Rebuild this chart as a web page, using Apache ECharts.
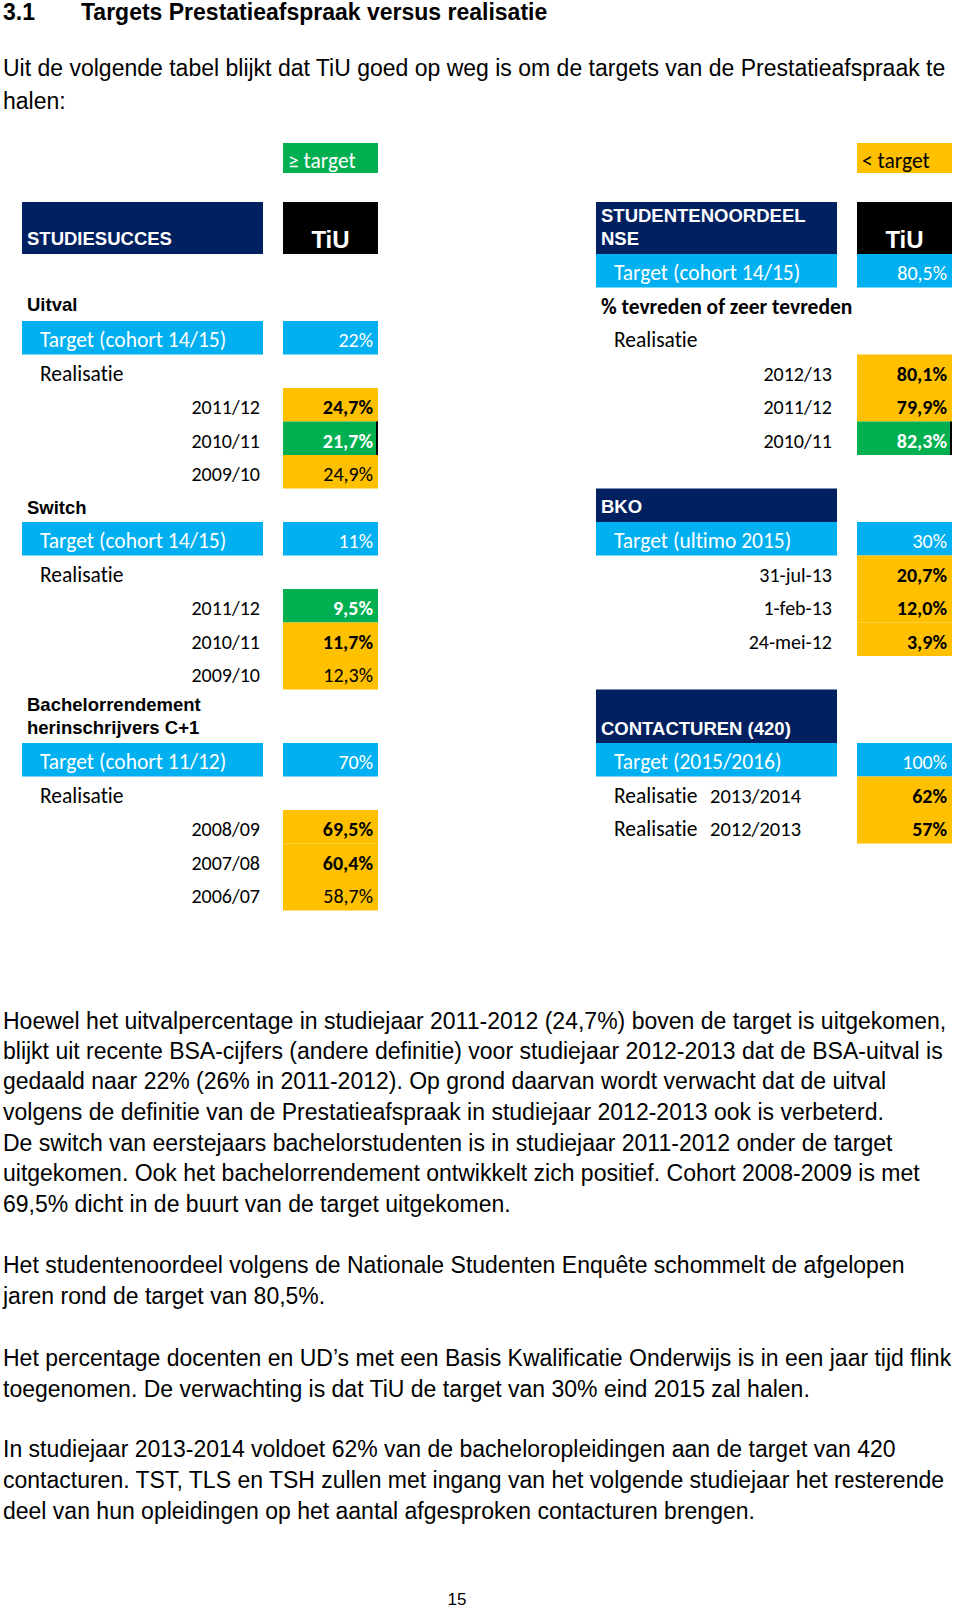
<!DOCTYPE html>
<html><head><meta charset="utf-8">
<script src="https://cdn.jsdelivr.net/npm/echarts@6/dist/echarts.min.js"></script>
<style>html,body{margin:0;padding:0;background:#fff}#c{width:960px;height:1611px}
#c text{font-variant-ligatures:none !important;font-feature-settings:"liga" 0,"clig" 0,"dlig" 0,"calt" 0 !important;text-rendering:optimizeSpeed !important;}</style>
</head><body><div id="c"></div>
<script>
// ---------------- data ----------------
const uitvalYears = ['2011/12', '2010/11', '2009/10'];
const uitvalValues = [24.7, 21.7, 24.9];
const uitvalTarget = 22;
const switchYears = ['2011/12', '2010/11', '2009/10'];
const switchValues = [9.5, 11.7, 12.3];
const switchTarget = 11;
const bachelorYears = ['2008/09', '2007/08', '2006/07'];
const bachelorValues = [69.5, 60.4, 58.7];
const bachelorTarget = 70;
const nseYears = ['2012/13', '2011/12', '2010/11'];
const nseValues = [80.1, 79.9, 82.3];
const nseTarget = 80.5;
const bkoDates = ['31-jul-13', '1-feb-13', '24-mei-12'];
const bkoValues = [20.7, 12.0, 3.9];
const bkoTarget = 30;
const contactYears = ['2013/2014', '2012/2013'];
const contactValues = [62, 57];
const contactTarget = 100;

// ---------------- styles / layout ----------------
const NAVY = '#002060', BLUE = '#00B0F0', GREEN = '#00B050', ORANGE = '#FFC000';
const CAL = 'Carlito, Lato, "Noto Sans", sans-serif';
const ARIAL = '"Liberation Sans", Arial, sans-serif';
const LABEL_SIZE = 21.5, NUM_SIZE = 20;
const COL = { L: [22, 263], LV: [283, 378], R: [596, 837], RV: [857, 952] };
const rowTop = r => (r <= 13 ? r : r + 0.6);
const rowBot = r => rowTop(r) + (r === 13 ? 1.6 : 1);
const HEADER = [-1.55, 0];
const LEGEND = [-3.313, -2.418];

const fmt1 = v => v.toFixed(1).replace('.', ',') + '%';
const fmtT = v => String(v).replace('.', ',') + '%';
const fmt0 = v => v + '%';

const cells = [];
function cell(col, y0, y1, o) {
  cells.push(Object.assign({ x0: COL[col][0], x1: COL[col][1], y0: y0, y1: y1 }, o));
}
function rowCell(col, r, o) { cell(col, rowTop(r), rowBot(r), o); }

function section(label, col, r, extra) {
  rowCell(col, r, Object.assign({ text: label, font: ARIAL, size: 18.5, bold: true, color: '#000', pos: 'pad', dy: 0 }, extra || {}));
}
function targetRow(lc, vc, r, label, txt) {
  rowCell(lc, r, { fill: BLUE, text: label, color: '#fff', pos: 'indent', size: LABEL_SIZE });
  rowCell(vc, r, { fill: BLUE, text: txt, color: '#fff', pos: 'right', size: NUM_SIZE });
}
function valueRows(lc, vc, r0, labels, values, target, lowerBetter, boldFlags, edgeFlags, fmt, labelPos) {
  values.forEach((v, i) => {
    const ok = lowerBetter ? v <= target : v >= target;
    if (labelPos === 'contact') {
      rowCell(lc, r0 + i, { text: 'Realisatie', pos: 'indent', size: LABEL_SIZE });
      rowCell(lc, r0 + i, { text: labels[i], pos: 'at', ax: 114, size: NUM_SIZE + 0.5 });
    } else {
      rowCell(lc, r0 + i, { text: labels[i], pos: 'right', rp: lc === 'L' ? 3 : 5, size: NUM_SIZE });
    }
    rowCell(vc, r0 + i, {
      fill: ok ? GREEN : ORANGE, text: fmt(v), color: ok ? '#fff' : '#000',
      bold: ok || boldFlags[i], pos: 'right', edge: edgeFlags[i], size: NUM_SIZE
    });
  });
}

// legend
cell('LV', LEGEND[0], LEGEND[1], { fill: GREEN, text: '\u2265 target', color: '#fff', pos: 'pad', size: LABEL_SIZE });
cell('RV', LEGEND[0], LEGEND[1], { fill: ORANGE, text: '< target', color: '#000', pos: 'pad', size: LABEL_SIZE });
// headers
cell('L', HEADER[0], HEADER[1], { fill: NAVY, text: 'STUDIESUCCES', font: ARIAL, size: 18.5, bold: true, color: '#fff', pos: 'pad', dy: 10.5 });
cell('LV', HEADER[0], HEADER[1], { fill: '#000', text: 'TiU', font: ARIAL, size: 24, bold: true, color: '#fff', pos: 'center', dy: 11.5 });
cell('R', HEADER[0], HEADER[1], { fill: NAVY, text: 'STUDENTENOORDEEL\nNSE', font: ARIAL, size: 18.5, bold: true, color: '#fff', pos: 'pad', dy: -1.5, lh: 23 });
cell('RV', HEADER[0], HEADER[1], { fill: '#000', text: 'TiU', font: ARIAL, size: 24, bold: true, color: '#fff', pos: 'center', dy: 11.5 });

// left: Uitval
section('Uitval', 'L', 1);
targetRow('L', 'LV', 2, 'Target (cohort 14/15)', fmtT(uitvalTarget));
rowCell('L', 3, { text: 'Realisatie', pos: 'indent', size: LABEL_SIZE });
valueRows('L', 'LV', 4, uitvalYears, uitvalValues, uitvalTarget, true, [true, true, false], [false, true, false], fmt1);
// left: Switch
section('Switch', 'L', 7, { dy: 2 });
targetRow('L', 'LV', 8, 'Target (cohort 14/15)', fmtT(switchTarget));
rowCell('L', 9, { text: 'Realisatie', pos: 'indent', size: LABEL_SIZE });
valueRows('L', 'LV', 10, switchYears, switchValues, switchTarget, true, [true, true, false], [false, false, false], fmt1);
// left: Bachelorrendement
section('Bachelorrendement\nherinschrijvers C+1', 'L', 13, { lh: 23, dy: 0 });
targetRow('L', 'LV', 14, 'Target (cohort 11/12)', fmtT(bachelorTarget));
rowCell('L', 15, { text: 'Realisatie', pos: 'indent', size: LABEL_SIZE });
valueRows('L', 'LV', 16, bachelorYears, bachelorValues, bachelorTarget, false, [true, true, false], [false, false, false], fmt1);

// right: NSE
targetRow('R', 'RV', 0, 'Target (cohort 14/15)', fmtT(nseTarget));
rowCell('R', 1, { text: '% tevreden of zeer tevreden', bold: true, pos: 'pad', size: LABEL_SIZE });
rowCell('R', 2, { text: 'Realisatie', pos: 'indent', size: LABEL_SIZE });
valueRows('R', 'RV', 3, nseYears, nseValues, nseTarget, false, [true, true, true], [false, false, true], fmt1);
// right: BKO
rowCell('R', 7, { fill: NAVY, text: 'BKO', font: ARIAL, size: 18.5, bold: true, color: '#fff', pos: 'pad', dy: 1.5 });
targetRow('R', 'RV', 8, 'Target (ultimo 2015)', fmtT(bkoTarget));
valueRows('R', 'RV', 9, bkoDates, bkoValues, bkoTarget, false, [true, true, true], [false, false, false], fmt1);
// right: Contacturen
rowCell('R', 13, { fill: NAVY, text: 'CONTACTUREN (420)', font: ARIAL, size: 18.5, bold: true, color: '#fff', pos: 'pad', dy: 12 });
targetRow('R', 'RV', 14, 'Target (2015/2016)', fmt0(contactTarget));
valueRows('R', 'RV', 15, contactYears, contactValues, contactTarget, false, [true, true], [false, false], fmt0, 'contact');

const cellData = cells.map((c, i) => [c.x0, c.y0, c.x1, c.y1, i]);

// ---------------- prose ----------------
const PROSE = '23px ' + ARIAL;
const prose = [
  { t: 'Hoewel het uitvalpercentage in studiejaar 2011-2012 (24,7%) boven de target is uitgekomen,', y: 1020.6 },
  { t: 'blijkt uit recente BSA-cijfers (andere definitie) voor studiejaar 2012-2013 dat de BSA-uitval is', y: 1050.8 },
  { t: 'gedaald naar 22% (26% in 2011-2012). Op grond daarvan wordt verwacht dat de uitval', y: 1081.2 },
  { t: 'volgens de definitie van de Prestatieafspraak in studiejaar 2012-2013 ook is verbeterd.', y: 1111.9 },
  { t: 'De switch van eerstejaars bachelorstudenten is in studiejaar 2011-2012 onder de target', y: 1142.6 },
  { t: 'uitgekomen. Ook het bachelorrendement ontwikkelt zich positief. Cohort 2008-2009 is met', y: 1173.4 },
  { t: '69,5% dicht in de buurt van de target uitgekomen.', y: 1204.2 },
  { t: 'Het studentenoordeel volgens de Nationale Studenten Enqu\u00eate schommelt de afgelopen', y: 1265.2 },
  { t: 'jaren rond de target van 80,5%.', y: 1296 },
  { t: 'Het percentage docenten en UD\u2019s met een Basis Kwalificatie Onderwijs is in een jaar tijd flink', y: 1357.7 },
  { t: 'toegenomen. De verwachting is dat TiU de target van 30% eind 2015 zal halen.', y: 1388.5 },
  { t: 'In studiejaar 2013-2014 voldoet 62% van de bacheloropleidingen aan de target van 420', y: 1449.2 },
  { t: 'contacturen. TST, TLS en TSH zullen met ingang van het volgende studiejaar het resterende', y: 1480 },
  { t: 'deel van hun opleidingen op het aantal afgesproken contacturen brengen.', y: 1510.9 }
];
const graphics = [
  { type: 'text', x: 3, y: 12, style: { text: '3.1', font: 'bold 23px ' + ARIAL, fill: '#000', verticalAlign: 'middle' } },
  { type: 'text', x: 81, y: 12, style: { text: 'Targets Prestatieafspraak versus realisatie', font: 'bold 23px ' + ARIAL, fill: '#000', verticalAlign: 'middle' } },
  { type: 'text', x: 3, y: 68, style: { text: 'Uit de volgende tabel blijkt dat TiU goed op weg is om de targets van de Prestatieafspraak te', font: PROSE, fill: '#000', verticalAlign: 'middle' } },
  { type: 'text', x: 3, y: 100.7, style: { text: 'halen:', font: PROSE, fill: '#000', verticalAlign: 'middle' } },
  { type: 'text', x: 457, y: 1599, style: { text: '15', font: '17px ' + ARIAL, fill: '#000', align: 'center', verticalAlign: 'middle' } }
].concat(prose.map(p => ({ type: 'text', x: 3, y: p.y, style: { text: p.t, font: PROSE, fill: '#000', verticalAlign: 'middle' } })));

// ---------------- chart ----------------
const chart = echarts.init(document.getElementById('c'), null, { renderer: 'svg', width: 960, height: 1611 });
chart.setOption({
  animation: false,
  grid: { left: 0, top: 120, width: 960, height: 33.5 * 24 },
  xAxis: { type: 'value', min: 0, max: 960, show: false },
  yAxis: { type: 'value', min: -4, max: 20, inverse: true, show: false },
  graphic: graphics,
  series: [{
    type: 'custom',
    clip: false,
    encode: { x: [0, 2], y: [1, 3] },
    data: cellData,
    renderItem: function (params, api) {
      const c = cells[api.value(4)];
      const p0 = api.coord([api.value(0), api.value(1)]);
      const p1 = api.coord([api.value(2), api.value(3)]);
      const w = p1[0] - p0[0], h = p1[1] - p0[1];
      const ch = [];
      if (c.fill) ch.push({ type: 'rect', shape: { x: p0[0], y: p0[1], width: w, height: h }, style: { fill: c.fill } });
      if (c.edge) ch.push({ type: 'rect', shape: { x: p1[0] - 2, y: p0[1], width: 2, height: h }, style: { fill: '#000' } });
      if (c.text) {
        const font = c.font || CAL;
        const size = c.size || 20;
        let x, align = 'left';
        if (c.pos === 'indent') x = p0[0] + 18;
        else if (c.pos === 'pad') x = p0[0] + 5;
        else if (c.pos === 'at') x = p0[0] + c.ax;
        else if (c.pos === 'center') { x = (p0[0] + p1[0]) / 2; align = 'center'; }
        else { x = p1[0] - (c.rp || 5); align = 'right'; }
        const dy = c.dy !== undefined ? c.dy : 2.5;
        ch.push({
          type: 'text',
          style: {
            text: c.text, x: x, y: (p0[1] + p1[1]) / 2 + dy,
            fill: c.color || '#000', fontFamily: font, fontSize: size,
            fontWeight: c.bold ? 'bold' : 'normal', align: align, verticalAlign: 'middle',
            lineHeight: c.lh || undefined
          }
        });
      }
      return { type: 'group', children: ch };
    }
  }]
});
</script>
</body></html>
